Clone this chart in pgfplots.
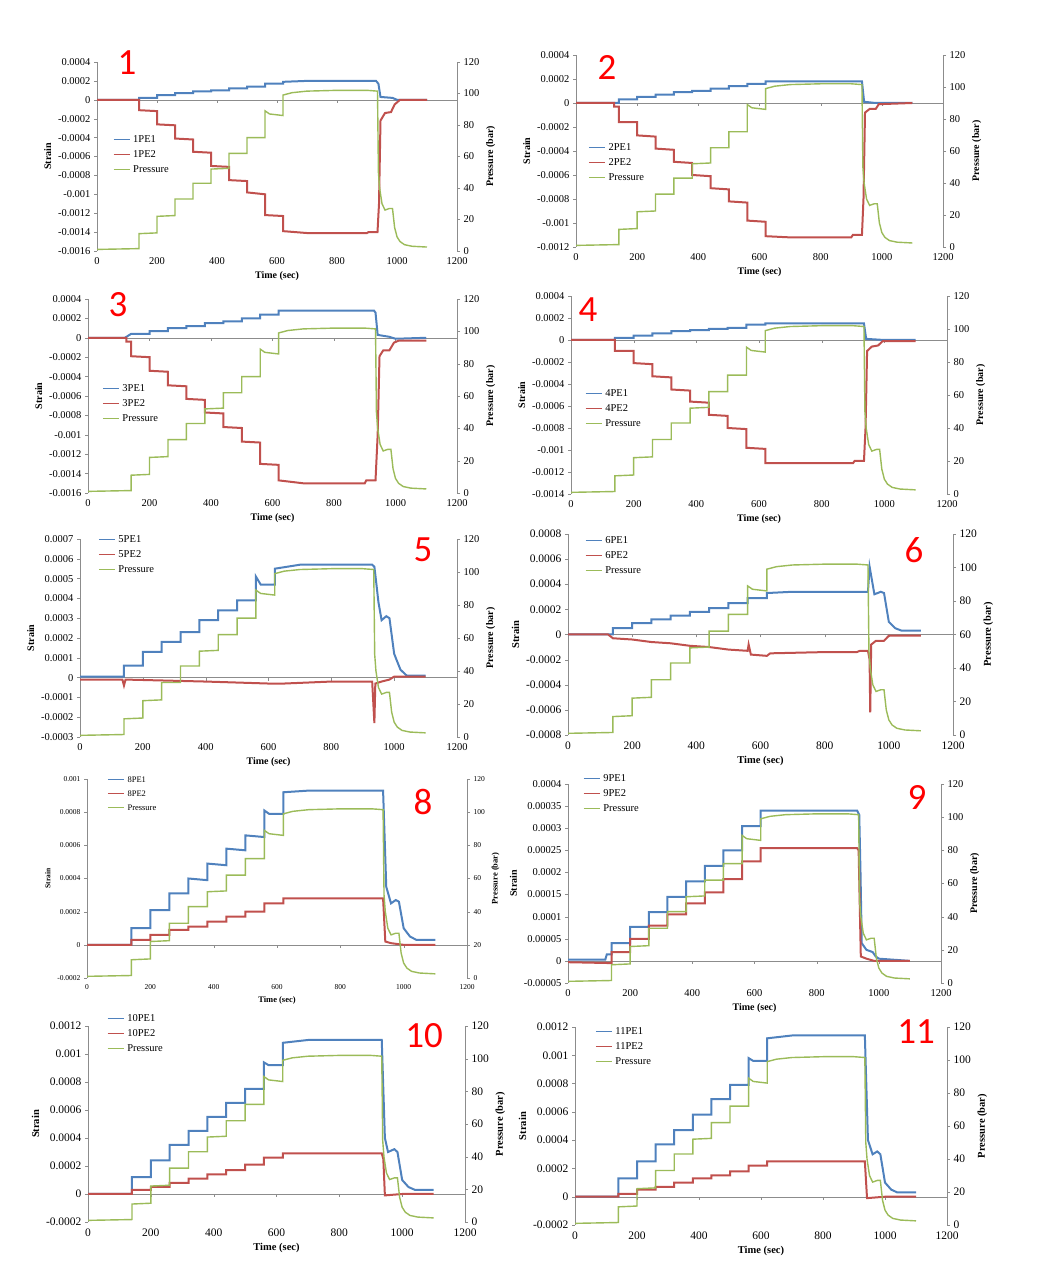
\documentclass[border=0pt]{standalone}
\usepackage{fontspec}
\setmainfont{Liberation Serif}
\newfontfamily\numfont{Carlito}
\usepackage{pgfplots}
\usepackage{pgfplotstable}
\pgfplotsset{compat=1.18}

\definecolor{pe1c}{HTML}{4F81BD}
\definecolor{pe2c}{HTML}{C0504D}
\definecolor{prsc}{HTML}{9BBB59}
\definecolor{axgray}{HTML}{8C8C8C}

% pressure history, the same test in every panel
\pgfplotstableread{
t p
0 1
140 1.5
140 11
200 11.5
200 22
260 22.5
260 33
320 33
320 43
380 43
380 52
440 52.5
440 62
500 62
500 72
560 72
560 89
575 87
620 86
620 99
650 100.5
700 101.5
800 102
900 102
935 101.5
938 50
942 40
950 30
960 26
975 27
985 27
992 15
1000 9
1010 6
1025 4
1050 3
1100 2.5
}\pressure

\tikzset{num/.style={text=red, font=\numfont\fontsize{37}{37}\selectfont}}

\pgfplotsset{
  base/.style={scale only axis, anchor=south west,
    xmin=0, xmax=1200, xtick={0,200,400,600,800,1000,1200},
    /pgf/number format/assume math mode=true,
    /pgf/number format/1000 sep={},
    axis line style={axgray}, tick style={axgray}, tick align=outside,
    major tick length=3pt,
    tick label style={font=\fontsize{10.5}{11}\selectfont},
    label style={font=\bfseries\fontsize{10}{11}\selectfont}},
  strain/.style={base, axis y line*=left, axis x line*=middle,
    x axis line style={-}, xticklabels={},
    scaled y ticks=false,
    yticklabel style={/pgf/number format/fixed,/pgf/number format/precision=5},
    ylabel={Strain},
    legend cell align=left,
    legend image code/.code={\draw[##1, line width=1.2pt] (0pt,0pt) -- (16pt,0pt);},
    legend style={draw=none, fill=none, anchor=north west, inner sep=0pt,
      row sep=5pt, column sep=3pt,
      font=\fontsize{10.5}{10.5}\selectfont,
      nodes={inner sep=0pt, text height=8pt, text depth=2pt}}},
  pres/.style={base, axis y line*=right, axis x line*=bottom,
    x axis line style={draw=none}, xtick style={draw=none},
    ymin=0, ymax=120, ytick={0,20,40,60,80,100,120},
    xlabel={Time (sec)}, ylabel={Pressure (bar)}},
  big/.style={tick label style={font=\fontsize{11.5}{12}\selectfont},
    label style={font=\bfseries\fontsize{10.5}{11}\selectfont}},
  pe1/.style={pe1c, line width=2pt},
  pe2/.style={pe2c, line width=2pt},
  prs/.style={prsc, line width=1.4pt},
}

\begin{document}
\begin{tikzpicture}
\path[use as bounding box] (0pt,0pt) rectangle (1054pt,1269pt);

% ---------- panel 1
\begin{axis}[strain, at={(97pt,1018pt)}, width=360pt, height=189pt,
  ymin=-0.0016, ymax=0.0004,
  ytick={-0.0016,-0.0014,-0.0012,-0.001,-0.0008,-0.0006,-0.0004,-0.0002,0,0.0002,0.0004},
  legend style={at={(0.044,0.619)}}]
\addplot[pe1] coordinates {(0,0) (140,0) (140,0.00002) (200,0.00002) (200,0.00005) (260,0.00005) (260,0.00007) (320,0.00007) (320,0.00009) (380,0.00009) (380,0.0001) (440,0.0001) (440,0.00012) (500,0.00012) (500,0.00014) (560,0.00014) (560,0.00017) (620,0.00017) (620,0.00019) (700,0.0002) (930,0.0002) (938,0.00017) (945,0.00003) (985,0.00002) (1000,0) (1100,0)};
\addplot[pe2] coordinates {(0,0) (140,0) (140,-0.00011) (200,-0.00012) (200,-0.00026) (260,-0.00027) (260,-0.00041) (320,-0.00042) (320,-0.00055) (380,-0.00056) (380,-0.0007) (440,-0.00071) (440,-0.00085) (500,-0.00086) (500,-0.00098) (560,-0.001) (560,-0.00122) (620,-0.00123) (620,-0.00139) (700,-0.00141) (900,-0.00141) (905,-0.0014) (935,-0.0014) (940,-0.0011) (945,-0.00022) (960,-0.00014) (980,-0.00013) (992,-0.00005) (1010,0) (1100,0)};
\addlegendimage{prs}
\legend{1PE1,1PE2,Pressure}
\end{axis}
\begin{axis}[pres, at={(97pt,1018pt)}, width=360pt, height=189pt]
\addplot[prs] table {\pressure};
\end{axis}
\node[num] at (127pt,1206pt) {1};

% ---------- panel 2
\begin{axis}[strain, at={(576pt,1022pt)}, width=367pt, height=192pt,
  ymin=-0.0012, ymax=0.0004,
  ytick={-0.0012,-0.001,-0.0008,-0.0006,-0.0004,-0.0002,0,0.0002,0.0004},
  legend style={at={(0.033,0.547)}}]
\addplot[pe1] coordinates {(0,0) (140,0) (140,0.00003) (200,0.00003) (200,0.00005) (260,0.00005) (260,0.00007) (320,0.00007) (320,0.00009) (380,0.00009) (380,0.0001) (440,0.0001) (440,0.00012) (500,0.00012) (500,0.00014) (560,0.00014) (560,0.00016) (620,0.00016) (620,0.00018) (935,0.00018) (942,0.00001) (980,0) (1100,0)};
\addplot[pe2] coordinates {(0,0) (125,0) (125,-0.00003) (140,-0.00003) (140,-0.00016) (200,-0.00016) (200,-0.00027) (260,-0.00028) (260,-0.00038) (320,-0.00039) (320,-0.00049) (380,-0.0005) (380,-0.0006) (440,-0.00061) (440,-0.00071) (500,-0.00072) (500,-0.00082) (560,-0.00083) (560,-0.00098) (620,-0.00099) (620,-0.00111) (700,-0.00112) (900,-0.00112) (905,-0.0011) (935,-0.0011) (940,-0.0008) (945,-0.00008) (960,-0.00005) (980,-0.00005) (990,-0.00001) (1100,0)};
\addlegendimage{prs}
\legend{2PE1,2PE2,Pressure}
\end{axis}
\begin{axis}[pres, at={(576pt,1022pt)}, width=367pt, height=192pt]
\addplot[prs] table {\pressure};
\end{axis}
\node[num] at (607pt,1201pt) {2};

% ---------- panel 3
\begin{axis}[strain, at={(88pt,776pt)}, width=369pt, height=194pt,
  ymin=-0.0016, ymax=0.0004,
  ytick={-0.0016,-0.0014,-0.0012,-0.001,-0.0008,-0.0006,-0.0004,-0.0002,0,0.0002,0.0004},
  legend style={at={(0.038,0.567)}}]
\addplot[pe1] coordinates {(0,0) (120,0) (140,0.00004) (200,0.00004) (200,0.00007) (260,0.00007) (260,0.0001) (320,0.0001) (320,0.00012) (380,0.00012) (380,0.00015) (440,0.00015) (440,0.00017) (500,0.00017) (500,0.0002) (560,0.0002) (560,0.00024) (620,0.00024) (620,0.00028) (930,0.00028) (935,0.00026) (942,0.00003) (980,0.00001) (1000,-0.00001) (1100,0)};
\addplot[pe2] coordinates {(0,0) (125,0) (125,-0.00004) (140,-0.00004) (140,-0.00019) (200,-0.0002) (200,-0.00034) (260,-0.00035) (260,-0.00049) (320,-0.0005) (320,-0.00063) (380,-0.00064) (380,-0.00077) (440,-0.00078) (440,-0.00092) (500,-0.00093) (500,-0.00107) (560,-0.00108) (560,-0.0013) (620,-0.00131) (620,-0.00147) (700,-0.0015) (900,-0.0015) (905,-0.00147) (935,-0.00147) (942,-0.001) (948,-0.00019) (960,-0.00013) (980,-0.00013) (995,-0.00005) (1010,-0.00003) (1100,-0.00003)};
\addlegendimage{prs}
\legend{3PE1,3PE2,Pressure}
\end{axis}
\begin{axis}[pres, at={(88pt,776pt)}, width=369pt, height=194pt]
\addplot[prs] table {\pressure};
\end{axis}
\node[num] at (118pt,964pt) {3};

% ---------- panel 4
\begin{axis}[strain, at={(571pt,775pt)}, width=376pt, height=198pt,
  ymin=-0.0014, ymax=0.0004,
  ytick={-0.0014,-0.0012,-0.001,-0.0008,-0.0006,-0.0004,-0.0002,0,0.0002,0.0004},
  legend style={at={(0.037,0.535)}}]
\addplot[pe1] coordinates {(0,0) (140,0) (140,0.00002) (200,0.00002) (200,0.00004) (260,0.00004) (260,0.00006) (320,0.00006) (320,0.00008) (380,0.00008) (380,0.00009) (440,0.00009) (440,0.0001) (500,0.0001) (500,0.00011) (560,0.00011) (560,0.00014) (620,0.00014) (620,0.00015) (935,0.00015) (942,0.00001) (1000,0) (1100,0)};
\addplot[pe2] coordinates {(0,0) (140,0) (140,-0.0001) (200,-0.0001) (200,-0.00021) (260,-0.00022) (260,-0.00033) (320,-0.00034) (320,-0.00045) (380,-0.00046) (380,-0.00056) (440,-0.00057) (440,-0.00068) (500,-0.00069) (500,-0.0008) (560,-0.00081) (560,-0.00098) (620,-0.00099) (620,-0.00112) (900,-0.00112) (905,-0.0011) (935,-0.0011) (940,-0.0008) (945,-0.0001) (960,-0.00006) (980,-0.00005) (995,-0.00001) (1100,-0.00001)};
\addlegendimage{prs}
\legend{4PE1,4PE2,Pressure}
\end{axis}
\begin{axis}[pres, at={(571pt,775pt)}, width=376pt, height=198pt]
\addplot[prs] table {\pressure};
\end{axis}
\node[num] at (588pt,959pt) {4};

% ---------- panel 5
\begin{axis}[strain, at={(80pt,532pt)}, width=377pt, height=198pt,
  ymin=-0.0003, ymax=0.0007,
  ytick={-0.0003,-0.0002,-0.0001,0,0.0001,0.0002,0.0003,0.0004,0.0005,0.0006,0.0007},
  legend style={at={(0.048,1.025)}}]
\addplot[pe1] coordinates {(0,0.000005) (140,0.000005) (140,0.00006) (200,0.00006) (200,0.00013) (260,0.00013) (260,0.00018) (320,0.00018) (320,0.00023) (380,0.00023) (380,0.00029) (440,0.00029) (440,0.00034) (500,0.00034) (500,0.00039) (560,0.00039) (560,0.00051) (575,0.00047) (620,0.00047) (620,0.00055) (700,0.00057) (930,0.00057) (937,0.00056) (940,0.00052) (950,0.00038) (960,0.00029) (975,0.00031) (985,0.0003) (1000,0.00012) (1020,0.00004) (1040,0.00001) (1100,0.00001)};
\addplot[pe2] coordinates {(0,-0.00001) (135,-0.00001) (140,-0.00004) (145,-0.00001) (400,-0.00002) (600,-0.00003) (650,-0.00003) (800,-0.00002) (930,-0.00002) (937,-0.00023) (940,-0.00003) (960,-0.00002) (985,-0.00001) (1000,0.000005) (1100,0.000005)};
\addlegendimage{prs}
\legend{5PE1,5PE2,Pressure}
\end{axis}
\begin{axis}[pres, at={(80pt,532pt)}, width=377pt, height=198pt]
\addplot[prs] table {\pressure};
\end{axis}
\node[num] at (423pt,719pt) {5};

% ---------- panel 6
\begin{axis}[strain, big, at={(568pt,534pt)}, width=385pt, height=201pt,
  ymin=-0.0008, ymax=0.0008,
  ytick={-0.0008,-0.0006,-0.0004,-0.0002,0,0.0002,0.0004,0.0006,0.0008},
  legend style={at={(0.044,0.995)}}]
\addplot[pe1] coordinates {(0,0) (140,0) (140,0.00005) (200,0.00005) (200,0.00009) (260,0.00009) (260,0.00012) (320,0.00012) (320,0.00015) (380,0.00015) (380,0.00018) (440,0.00018) (440,0.00021) (500,0.00021) (500,0.00025) (560,0.00025) (560,0.00029) (620,0.00029) (620,0.00033) (700,0.00034) (935,0.00034) (940,0.00054) (955,0.00032) (975,0.00034) (985,0.00033) (1000,0.0001) (1020,0.00005) (1040,0.00003) (1100,0.00003)};
\addplot[pe2] coordinates {(0,0) (125,0) (140,-0.00003) (200,-0.00004) (260,-0.00006) (320,-0.00007) (380,-0.00009) (440,-0.0001) (500,-0.00012) (560,-0.00013) (563,-0.00008) (570,-0.00016) (620,-0.00017) (630,-0.00015) (800,-0.00014) (900,-0.00014) (910,-0.00013) (935,-0.00013) (940,-0.0002) (942,-0.00062) (945,-0.00008) (960,-0.00005) (985,-0.00005) (1000,-0.00001) (1100,-0.00001)};
\addlegendimage{prs}
\legend{6PE1,6PE2,Pressure}
\end{axis}
\begin{axis}[pres, big, at={(568pt,534pt)}, width=385pt, height=201pt]
\addplot[prs] table {\pressure};
\end{axis}
\node[num] at (914pt,719pt) {6};

% ---------- panel 8
\begin{axis}[strain, at={(87pt,291pt)}, width=380pt, height=199pt,
  ymin=-0.0002, ymax=0.001,
  ytick={-0.0002,0,0.0002,0.0004,0.0006,0.0008,0.001},
  tick label style={font=\fontsize{7.5}{8}\selectfont},
  label style={font=\bfseries\fontsize{7.5}{8}\selectfont},
  legend style={at={(0.053,1.025)}, font=\fontsize{8.5}{8.5}\selectfont, row sep=4pt}]
\addplot[pe1] coordinates {(0,0) (140,0) (140,0.0001) (200,0.0001) (200,0.00021) (260,0.00021) (260,0.00031) (320,0.00031) (320,0.0004) (380,0.00039) (380,0.00049) (440,0.00048) (440,0.00058) (500,0.00057) (500,0.00066) (560,0.00065) (560,0.00081) (575,0.00079) (620,0.00079) (620,0.00092) (700,0.00093) (935,0.00093) (945,0.00035) (960,0.00025) (975,0.00027) (985,0.00026) (1000,0.0001) (1020,0.00005) (1040,0.00003) (1100,0.00003)};
\addplot[pe2] coordinates {(0,0) (140,0) (140,0.00003) (200,0.00003) (200,0.00006) (260,0.00006) (260,0.00009) (320,0.00009) (320,0.00011) (380,0.00011) (380,0.00014) (440,0.00014) (440,0.00017) (500,0.00017) (500,0.0002) (560,0.0002) (560,0.00025) (620,0.00025) (620,0.00028) (935,0.00028) (942,0.00002) (960,0.00001) (1000,0) (1100,0)};
\addlegendimage{prs}
\legend{8PE1,8PE2,Pressure}
\end{axis}
\begin{axis}[pres, at={(87pt,291pt)}, width=380pt, height=199pt,
  tick label style={font=\fontsize{7.5}{8}\selectfont},
  label style={font=\bfseries\fontsize{8.5}{9}\selectfont}]
\addplot[prs] table {\pressure};
\end{axis}
\node[num] at (423pt,467pt) {8};

% ---------- panel 9
\begin{axis}[strain, at={(568pt,286pt)}, width=373pt, height=199pt,
  ymin=-0.00005, ymax=0.0004,
  ytick={-0.00005,0,0.00005,0.0001,0.00015,0.0002,0.00025,0.0003,0.00035,0.0004},
  legend style={at={(0.040,1.055)}}]
\addplot[pe1] coordinates {(0,0.000003) (120,0.000003) (125,0.000015) (140,0.000015) (140,0.00004) (200,0.00004) (200,0.000077) (260,0.000077) (260,0.00011) (320,0.00011) (320,0.000145) (380,0.000145) (380,0.00018) (440,0.00018) (440,0.000215) (500,0.000215) (500,0.00025) (560,0.00025) (560,0.000305) (620,0.000305) (620,0.00034) (930,0.00034) (937,0.00033) (941,0.0002) (945,0.00004) (960,0.000025) (980,0.00002) (990,0.00001) (1000,0.000005) (1100,0)};
\addplot[pe2] coordinates {(0,-0.000003) (140,-0.000005) (140,0.00002) (200,0.00002) (200,0.00005) (260,0.00005) (260,0.00008) (320,0.00008) (320,0.000105) (380,0.000105) (380,0.00013) (440,0.00013) (440,0.000155) (500,0.000155) (500,0.000185) (560,0.000185) (560,0.000225) (620,0.000225) (620,0.000255) (930,0.000255) (935,0.00025) (942,0.00001) (960,0.000005) (985,0) (1100,0)};
\addlegendimage{prs}
\legend{9PE1,9PE2,Pressure}
\end{axis}
\begin{axis}[pres, at={(568pt,286pt)}, width=373pt, height=199pt]
\addplot[prs] table {\pressure};
\end{axis}
\node[num] at (917pt,471pt) {9};

% ---------- panel 10
\begin{axis}[strain, big, at={(88pt,47pt)}, width=377pt, height=196pt,
  ymin=-0.0002, ymax=0.0012,
  ytick={-0.0002,0,0.0002,0.0004,0.0006,0.0008,0.001,0.0012},
  legend style={at={(0.050,1.066)}}]
\addplot[pe1] coordinates {(0,0) (140,0) (140,0.00012) (200,0.00012) (200,0.00024) (260,0.00024) (260,0.00035) (320,0.00035) (320,0.00045) (380,0.00045) (380,0.00055) (440,0.00055) (440,0.00065) (500,0.00065) (500,0.00075) (560,0.00075) (560,0.00094) (575,0.00092) (620,0.00092) (620,0.00108) (700,0.0011) (935,0.0011) (945,0.0004) (955,0.0003) (975,0.00032) (985,0.0003) (1000,0.0001) (1020,0.00005) (1040,0.00003) (1100,0.00003)};
\addplot[pe2] coordinates {(0,0) (140,0) (140,0.00003) (200,0.00003) (200,0.00005) (260,0.00005) (260,0.00008) (320,0.00008) (320,0.00011) (380,0.00011) (380,0.00014) (440,0.00014) (440,0.00017) (500,0.00017) (500,0.00021) (560,0.00021) (560,0.00026) (620,0.00026) (620,0.00029) (935,0.00029) (940,0.00025) (945,-0.00001) (1000,0) (1100,0)};
\addlegendimage{prs}
\legend{10PE1,10PE2,Pressure}
\end{axis}
\begin{axis}[pres, big, at={(88pt,47pt)}, width=377pt, height=196pt]
\addplot[prs] table {\pressure};
\end{axis}
\node[num] at (424pt,233pt) {10};

% ---------- panel 11
\begin{axis}[strain, big, at={(575pt,44pt)}, width=372pt, height=198pt,
  ymin=-0.0002, ymax=0.0012,
  ytick={-0.0002,0,0.0002,0.0004,0.0006,0.0008,0.001,0.0012},
  legend style={at={(0.054,1.005)}}]
\addplot[pe1] coordinates {(0,0) (140,0) (140,0.00013) (200,0.00013) (200,0.00025) (260,0.00025) (260,0.00037) (320,0.00037) (320,0.00047) (380,0.00047) (380,0.00058) (440,0.00058) (440,0.00069) (500,0.00069) (500,0.00079) (560,0.00079) (560,0.00098) (575,0.00096) (620,0.00096) (620,0.00112) (700,0.00114) (935,0.00114) (945,0.0004) (960,0.0003) (975,0.00032) (985,0.0003) (1000,0.0001) (1020,0.00005) (1040,0.00003) (1100,0.00003)};
\addplot[pe2] coordinates {(0,0) (140,0) (140,0.00002) (200,0.00002) (200,0.00005) (260,0.00005) (260,0.00007) (320,0.00007) (320,0.0001) (380,0.0001) (380,0.00013) (440,0.00013) (440,0.00015) (500,0.00015) (500,0.00018) (560,0.00018) (560,0.00022) (620,0.00022) (620,0.00025) (935,0.00025) (942,-0.00001) (1000,0) (1100,0)};
\addlegendimage{prs}
\legend{11PE1,11PE2,Pressure}
\end{axis}
\begin{axis}[pres, big, at={(575pt,44pt)}, width=372pt, height=198pt]
\addplot[prs] table {\pressure};
\end{axis}
\node[num] at (916pt,237pt) {11};

\end{tikzpicture}
\end{document}
